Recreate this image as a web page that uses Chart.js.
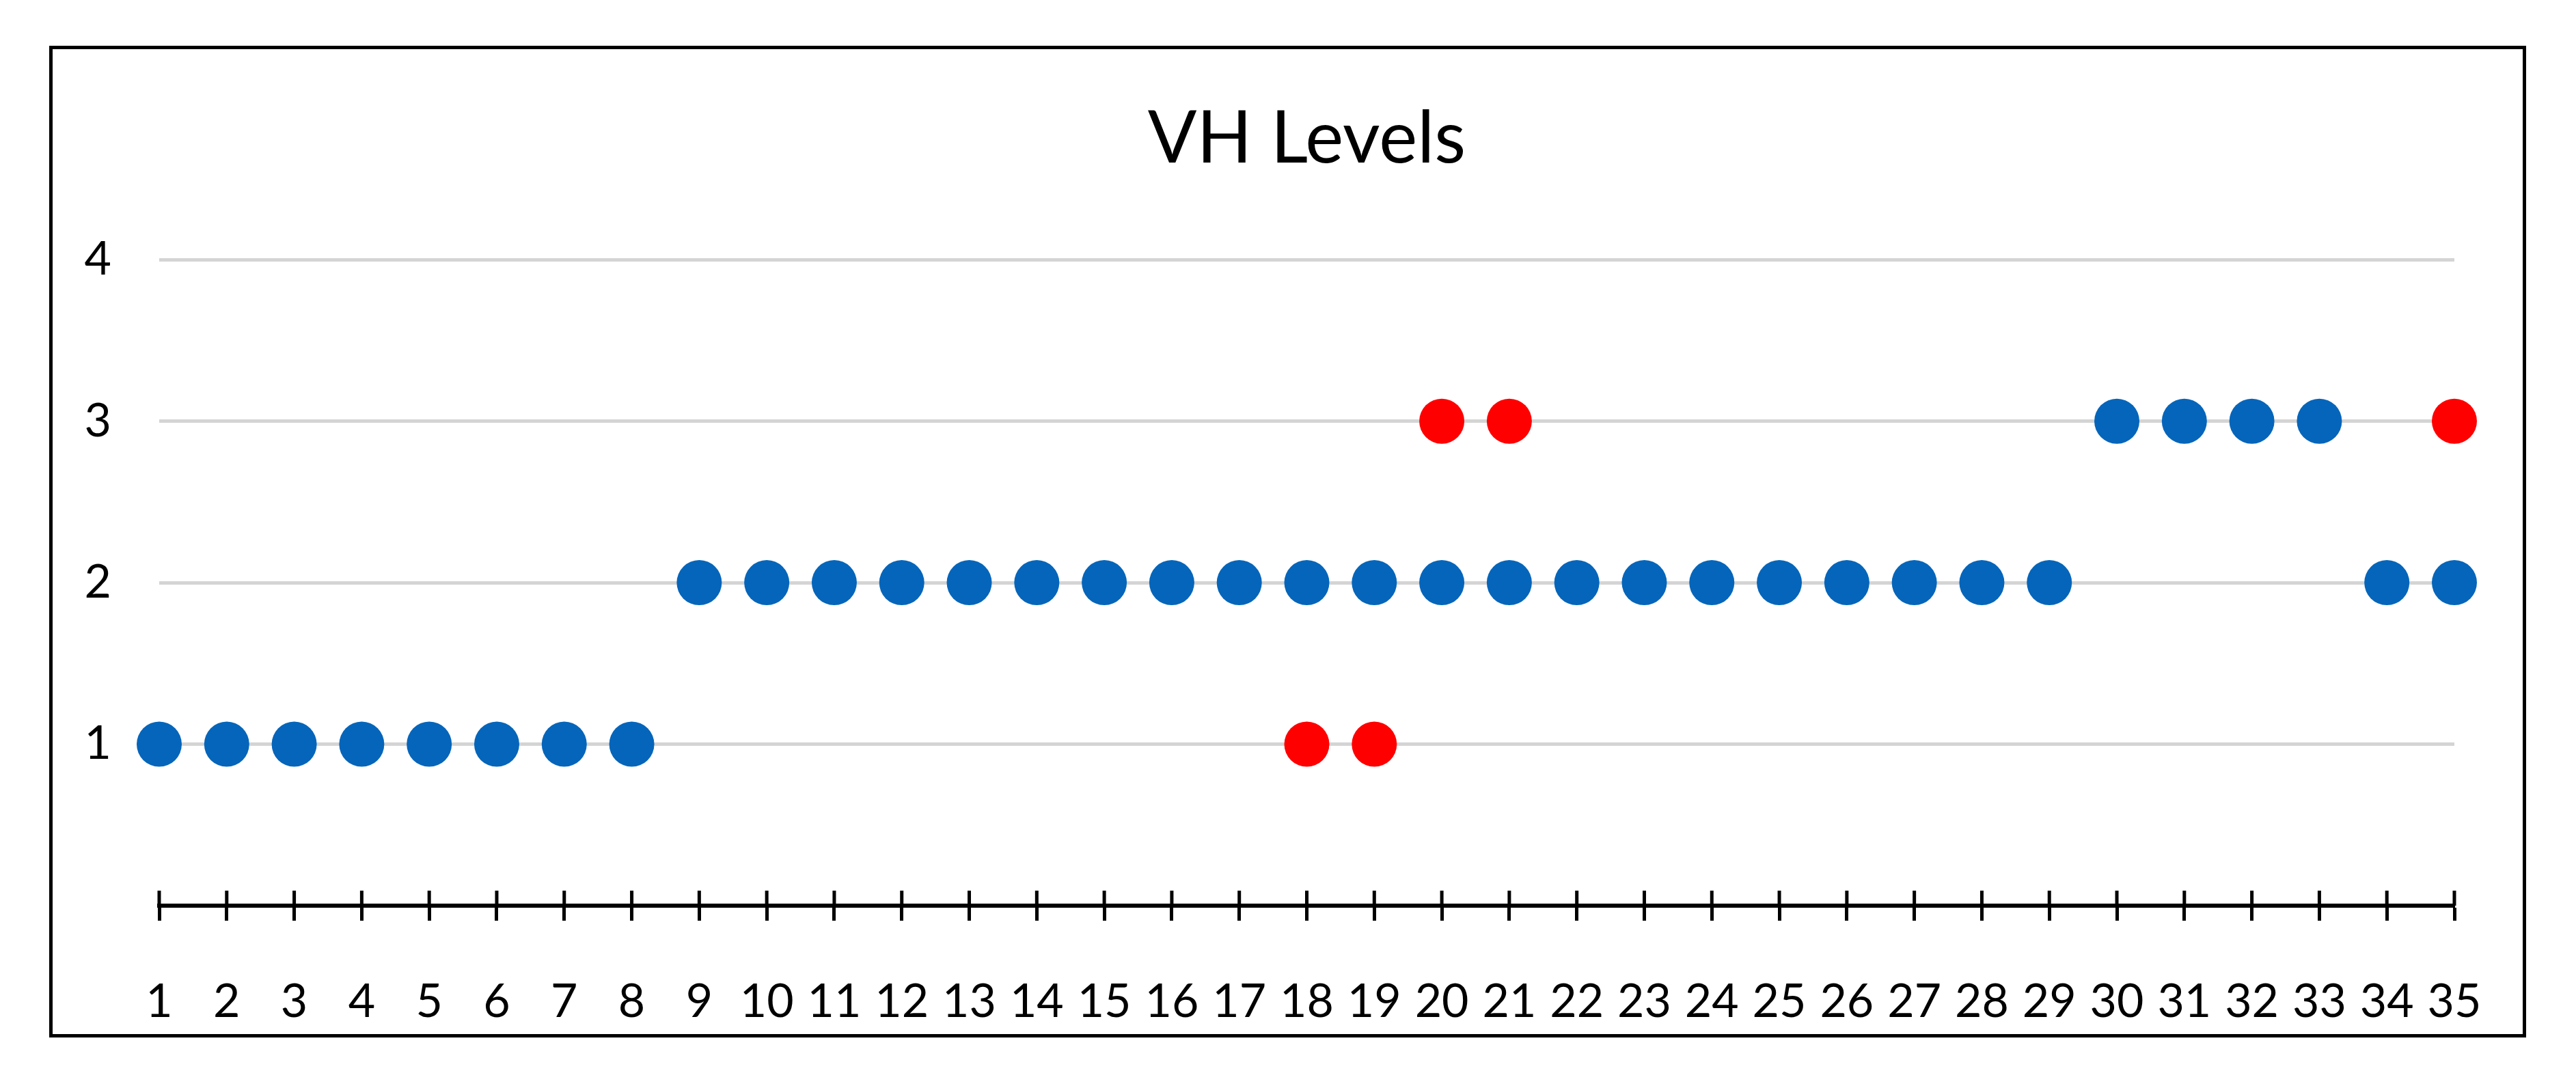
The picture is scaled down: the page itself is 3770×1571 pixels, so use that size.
<!DOCTYPE html>
<html>
<head>
<meta charset="utf-8">
<script src="https://cdn.jsdelivr.net/npm/chart.js@4.4.1/dist/chart.umd.min.js"></script>
<style>
  html, body { margin: 0; padding: 0; background: #fff; }
  #frame {
    position: absolute; left: 72px; top: 67px;
    width: 3625px; height: 1452px;
    border: 5px solid #000; box-sizing: border-box;
  }
  #chart { display: block; }
</style>
</head>
<body>
<div id="frame"><canvas id="chart" width="3615" height="1442"></canvas></div>
<script>
// Data
const days = ['1','2','3','4','5','6','7','8','9','10','11','12','13','14','15','16','17','18',
              '19','20','21','22','23','24','25','26','27','28','29','30','31','32','33','34','35'];
const blueLevels = [1,1,1,1,1,1,1,1,2,2,2,2,2,2,2,2,2,2,2,2,2,2,2,2,2,2,2,2,2,3,3,3,3,2,2];
const redLevels = [null,null,null,null,null,null,null,null,null,null,null,null,null,null,null,null,null,
                   1,1,3,3,null,null,null,null,null,null,null,null,null,null,null,null,null,3];
const yTicks = [1, 2, 3, 4];

const fontFamily = 'Lato, "Open Sans", sans-serif';

// upper half of the x-axis tick marks (Chart.js only draws them below the axis)
const crossTicks = {
    id: 'crossTicks',
    afterDraw(chart) {
        const x = chart.scales.x;
        const ctx = chart.ctx;
        const yAxis = chart.chartArea.bottom;
        ctx.save();
        ctx.strokeStyle = '#000';
        ctx.lineWidth = 5;
        x.ticks.forEach((t, i) => {
            const px = x.getPixelForTick(i);
            ctx.beginPath();
            ctx.moveTo(px, yAxis - 22);
            ctx.lineTo(px, yAxis);
            ctx.stroke();
        });
        ctx.restore();
    }
};

const ctx = document.getElementById('chart').getContext('2d');
const chart = new Chart(ctx, {
    type: 'line',
    data: {
        labels: days,
        datasets: [{
            label: 'VH level',
            data: blueLevels,
            showLine: false,
            pointRadius: 33,
            pointBorderWidth: 0,
            pointBackgroundColor: '#0565BA',
            order: 2
        }, {
            label: 'VH level (flagged)',
            data: redLevels,
            showLine: false,
            pointRadius: 33,
            pointBorderWidth: 0,
            pointBackgroundColor: '#FF0000',
            order: 1
        }]
    },
    options: {
        responsive: false,
        animation: false,
        layout: { padding: { left: 0, right: 100, top: 0, bottom: 0 } },
        plugins: {
            legend: { display: false },
            tooltip: { enabled: false },
            title: {
                display: true,
                fullSize: false,
                text: 'VH Levels',
                color: '#000',
                font: { family: fontFamily, size: 106, weight: 'normal', lineHeight: 1.2 },
                padding: { top: 68, bottom: 113 }
            }
        },
        scales: {
            x: {
                type: 'category',
                offset: false,
                grid: {
                    drawOnChartArea: false,
                    drawTicks: true,
                    tickLength: 22,
                    tickColor: '#000',
                    tickWidth: 5
                },
                border: { display: true, color: '#000', width: 6 },
                ticks: {
                    autoSkip: false,
                    maxRotation: 0,
                    color: '#000',
                    padding: 78,
                    font: { family: fontFamily, size: 68 }
                },
                afterFit(scale) {
                    scale.height = 188;
                    scale.paddingLeft = 0;
                    scale.paddingRight = 0;
                }
            },
            y: {
                min: 0,
                max: 4,
                grid: { color: '#d4d4d4', lineWidth: 5, drawTicks: false },
                border: { display: false },
                ticks: {
                    color: '#000',
                    padding: 70,
                    font: { family: fontFamily, size: 68 }
                },
                afterBuildTicks(scale) { scale.ticks = yTicks.map(v => ({ value: v })); },
                afterFit(scale) { scale.width = 156; }
            }
        }
    },
    plugins: [crossTicks]
});
</script>
</body>
</html>
